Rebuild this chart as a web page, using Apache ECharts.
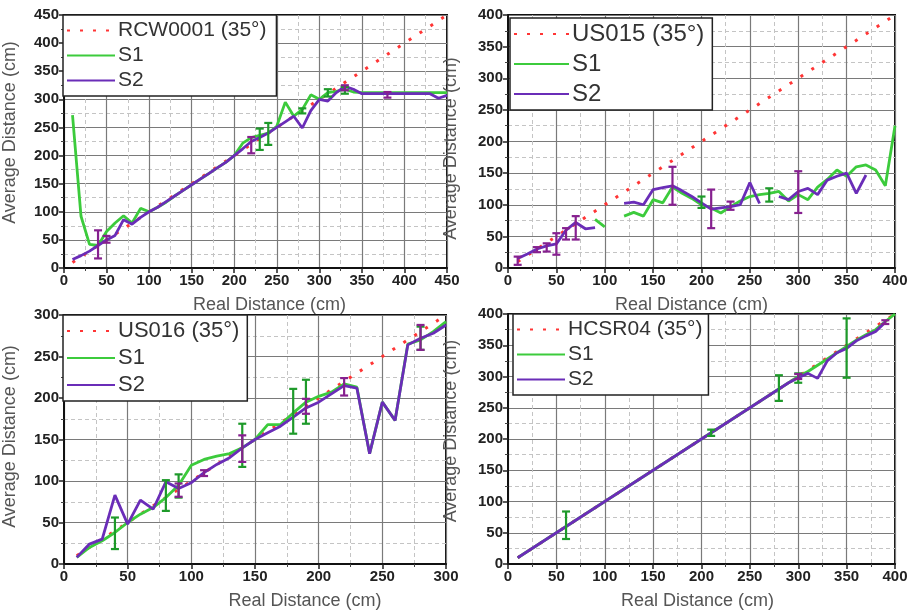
<!DOCTYPE html>
<html>
<head>
<meta charset="utf-8">
<script src="https://cdn.jsdelivr.net/npm/echarts@6/dist/echarts.min.js"></script>
<style>
html, body { margin: 0; padding: 0; background: #fff; }
#main { width: 918px; height: 611px; }
</style>
</head>
<body>
<div id="main"></div>
<script>
// ---- data ----
// RCW0001
var rcwX = [10,20,30,40,50,60,70,80,90,100,110,120,130,140,150,160,170,180,190,200,210,220,230,240,250,260,270,280,290,300,310,320,330,340,350,360,370,380,390,400,410,420,430,440,450];
var rcwS1 = [272,92,42,40,65,80,93,80,106,100,108,117,128,138,148,158,168,178,188,200,222,232,236,240,252,295,270,282,308,300,312,314,318,313,312,312,312,312,312,312,312,312,312,312,312];
var rcwS2 = [15,22,30,40,50,58,86,78,90,100,108,118,128,138,148,158,168,178,188,200,212,225,232,240,250,260,270,249,280,300,297,312,323,318,310,310,310,310,310,310,310,310,310,302,307];
var rcwIdeal = [[10,10],[450,450]];
var rcwS1Err = [[230,210,248],[240,219,258],[280,275,284],[310,305,318],[330,310,322]];
var rcwS2Err = [[40,17,67],[50,45,57],[220,204,233],[330,316,325],[380,303,313]];

// US015
var us15X = [10,20,30,40,50,60,70,80,90,100,110,120,130,140,150,160,170,180,190,200,210,220,230,240,250,260,270,280,290,300,310,320,330,340,350,360,370,380,390,400];
var us15S1 = [null,null,null,null,null,null,null,null,77,65,null,82,88,82,108,103,128,118,110,100,95,87,97,106,113,116,118,121,106,116,108,128,140,155,145,160,163,155,130,225];
var us15S2 = [15,22,30,35,38,60,72,62,64,null,null,102,104,100,124,127,130,122,113,103,93,95,97,100,135,102,null,113,108,121,126,116,139,145,150,118,147,null,null,null];
var us15Ideal = [[10,10],[400,400]];
var us15S1Err = [[200,95,113],[270,105,126]];
var us15S2Err = [[10,5,18],[30,25,33],[40,26,39],[50,21,55],[60,45,63],[70,45,82],[170,100,160],[210,63,124],[230,92,105],[300,87,153]];

// US016
var us16X = [10,20,30,40,50,60,70,80,90,100,110,120,130,140,150,160,170,180,190,200,210,220,230,240,250,260,270,280,290,300];
var us16S1 = [8,20,28,38,50,60,68,80,95,119,126,130,133,140,150,168,168,182,195,202,207,217,213,133,195,173,265,270,280,292];
var us16S2 = [8,24,30,83,48,77,66,99,91,98,110,120,128,140,150,158,166,177,188,195,205,215,212,133,195,173,264,272,278,288];
var us16Ideal = [[10,10],[300,300]];
var us16S1Err = [[40,18,56],[80,64,101],[90,80,108],[140,117,169],[180,157,211],[190,169,222],[280,258,286]];
var us16S2Err = [[90,81,97],[110,106,113],[140,123,155],[190,181,199],[220,203,224],[280,258,288]];

// HCSR04
var hcX = [10,20,30,40,50,60,70,80,90,100,110,120,130,140,150,160,170,180,190,200,210,220,230,240,250,260,270,280,290,300,310,320,330,340,350,360,370,380,390,400];
var hcS1 = [10,20,30,40,50,60,70,80,90,100,110,120,130,140,150,160,170,180,190,200,210,220,230,240,250,260,270,280,290,300,308,318,328,338,348,358,367,375,388,400];
var hcS2 = [10,20,30,40,50,60,70,80,90,100,110,120,130,140,150,160,170,180,190,200,210,220,230,240,250,260,270,280,290,298,305,297,325,338,345,357,365,372,387,null];
var hcIdeal = [[10,10],[400,400]];
var hcS1Err = [[60,40,84],[210,205,215],[280,261,302],[300,290,305],[350,298,393]];
var hcS2Err = [[300,296,304],[390,384,390]];

var tickMax = [450, 400, 300, 400];
var idealNames = ['RCW0001 (35°)', 'US015 (35°)', 'US016 (35°)', 'HCSR04 (35°)'];

var GREEN = '#3ccb3c', PURPLE = '#6a2db8', RED = '#ff3535';
var GREEN_ERR = '#1e9a2a', PURPLE_ERR = '#86208f';
var FONT = 'Liberation Sans, Arial, sans-serif';

function pairs(xs, ys) {
	return xs.map(function (x, i) { return [x, ys[i]]; });
}

function errBar(params, api) {
	var x = api.value(0);
	var lo = api.coord([x, api.value(1)]);
	var hi = api.coord([x, api.value(2)]);
	var w = 4;
	var st = { stroke: api.visual('color'), lineWidth: 2.2 };
	return {
		type: 'group',
		children: [
			{ type: 'line', shape: { x1: lo[0], y1: lo[1], x2: hi[0], y2: hi[1] }, style: st },
			{ type: 'line', shape: { x1: lo[0] - w, y1: lo[1], x2: lo[0] + w, y2: lo[1] }, style: st },
			{ type: 'line', shape: { x1: hi[0] - w, y1: hi[1], x2: hi[0] + w, y2: hi[1] }, style: st }
		]
	};
}

var grids = [
	{ left: 60, top: 15, width: 387, height: 253 },
	{ left: 508, top: 15, width: 387, height: 253 },
	{ left: 60, top: 315, width: 386, height: 252 },
	{ left: 508, top: 314, width: 387, height: 252 }
];
grids.forEach(function (g) {
	g.show = true;
	g.borderColor = '#111';
	g.borderWidth = 2;
	g.backgroundColor = 'transparent';
});

var xNamePad = [[0, 0, 0, 28], [0, 0, 0, -20], [0, 0, 0, 100], [0, 0, 0, -8]];
var yNameGap = [45, 48, 45, 48];
var yNamePad = [[0, 0, 0, 18], [0, 0, 0, -14], [0, 0, 0, 6], [0, 0, 0, 16]];

function axisCommon(max) {
	return {
		min: 0, max: max, interval: 50,
		axisLine: { show: true, onZero: false, lineStyle: { color: '#111', width: 2 } },
		axisTick: { show: true, length: 5, lineStyle: { color: '#222', width: 1.5 } },
		minorTick: { show: true, splitNumber: 2, length: 3, lineStyle: { color: '#444' } },
		axisLabel: { color: '#222', fontSize: 15, fontWeight: 'bold', fontFamily: FONT, margin: 5 },
		splitLine: { show: true, lineStyle: { color: '#7a7a7a', width: 1.2 } },
		minorSplitLine: { show: true, lineStyle: { color: '#c4c4c4', type: [4, 3], width: 1 } },
		nameLocation: 'middle'
	};
}

var xAxes = [], yAxes = [];
for (var i = 0; i < 4; i++) {
	var xa = axisCommon(tickMax[i]);
	xa.gridIndex = i;
	xa.type = 'value';
	xa.name = 'Real Distance (cm)';
	xa.nameGap = 28;
	xa.nameTextStyle = { color: '#555', fontSize: 18, fontFamily: FONT, padding: xNamePad[i] };
	xAxes.push(xa);
	var ya = axisCommon(tickMax[i]);
	ya.gridIndex = i;
	ya.type = 'value';
	ya.name = 'Average Distance (cm)';
	ya.nameGap = yNameGap[i];
	ya.nameTextStyle = { color: '#555', fontSize: 18, fontFamily: FONT, padding: yNamePad[i] };
	yAxes.push(ya);
}

var panels = [
	{ x: rcwX, s1: rcwS1, s2: rcwS2, ideal: rcwIdeal, e1: rcwS1Err, e2: rcwS2Err },
	{ x: us15X, s1: us15S1, s2: us15S2, ideal: us15Ideal, e1: us15S1Err, e2: us15S2Err },
	{ x: us16X, s1: us16S1, s2: us16S2, ideal: us16Ideal, e1: us16S1Err, e2: us16S2Err },
	{ x: hcX, s1: hcS1, s2: hcS2, ideal: hcIdeal, e1: hcS1Err, e2: hcS2Err }
];

var series = [];
panels.forEach(function (p, i) {
	series.push({
		name: idealNames[i], type: 'line', xAxisIndex: i, yAxisIndex: i,
		data: p.ideal, symbol: 'none', z: 2,
		color: RED,
		lineStyle: { color: RED, width: 3, type: [3, 10] }
	});
	series.push({
		name: 'S1', type: 'line', xAxisIndex: i, yAxisIndex: i,
		data: pairs(p.x, p.s1), symbol: 'none', z: 3,
		color: GREEN,
		lineStyle: { color: GREEN, width: 2.8 }
	});
	series.push({
		name: 'S2', type: 'line', xAxisIndex: i, yAxisIndex: i,
		data: pairs(p.x, p.s2), symbol: 'none', z: 4,
		color: PURPLE,
		lineStyle: { color: PURPLE, width: 2.8 }
	});
	series.push({
		name: 'S1 error', type: 'custom', xAxisIndex: i, yAxisIndex: i,
		renderItem: errBar, data: p.e1, encode: { x: 0, y: [1, 2] },
		itemStyle: { color: GREEN_ERR }, z: 5
	});
	series.push({
		name: 'S2 error', type: 'custom', xAxisIndex: i, yAxisIndex: i,
		renderItem: errBar, data: p.e2, encode: { x: 0, y: [1, 2] },
		itemStyle: { color: PURPLE_ERR }, z: 6
	});
});

var legendBox = [
	{ left: 63, top: 15, font: 21, w: 48, gap: 4, pad: [5, 10, 5, 3] },
	{ left: 510, top: 18, font: 24, w: 55, gap: 6, pad: [4, 8, 4, 3] },
	{ left: 63, top: 315, font: 22, w: 48, gap: 5, pad: [5, 8, 5, 3] },
	{ left: 513, top: 314, font: 21, w: 48, gap: 4, pad: [5, 6, 5, 3] }
];
var legends = legendBox.map(function (b, i) {
	return {
		orient: 'vertical', left: b.left, top: b.top,
		data: [idealNames[i], 'S1', 'S2'],
		itemWidth: b.w, itemHeight: 14, itemGap: b.gap,
		padding: b.pad,
		borderColor: '#222', borderWidth: 1.5, backgroundColor: '#fff',
		selectedMode: false,
		itemStyle: { opacity: 0 },
		textStyle: { fontSize: b.font, color: '#333', fontFamily: FONT, padding: [0, 0, 0, -2] }
	};
});

var myChart = echarts.init(document.getElementById('main'), null, { renderer: 'canvas' });
option = {
	animation: false,
	backgroundColor: '#fff',
	grid: grids,
	xAxis: xAxes,
	yAxis: yAxes,
	legend: legends,
	series: series
};
myChart.setOption(option);
</script>
</body>
</html>
